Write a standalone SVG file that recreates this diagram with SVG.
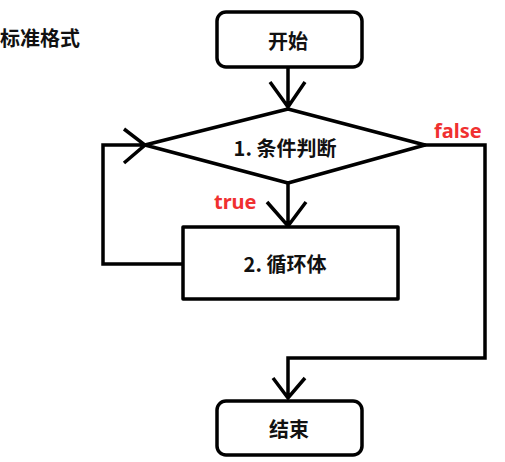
<svg xmlns="http://www.w3.org/2000/svg" width="505" height="462" viewBox="0 0 505 462">
<style>
.s{fill:#fff;stroke:#000;stroke-width:3.5;stroke-linejoin:round}
.c{fill:none;stroke:#000;stroke-width:3.5;stroke-linejoin:miter}
.t{font-family:"Noto Sans CJK SC","Noto Sans",sans-serif;font-weight:bold;font-size:20px;fill:#111;text-anchor:middle}
.r{font-family:"Noto Sans","Open Sans",sans-serif;font-weight:bold;font-size:20px;fill:#f03030}
</style>
<rect width="505" height="462" fill="#fff"/>
<text x="0" y="46" class="t" style="text-anchor:start">标准格式</text>
<g id="connectors">
<path class="c" d="M288 67 V106 M270 82 L288 107 L305 82"/>
<path class="c" d="M288 183 V226 M267 202 L288 226 L306 202"/>
<path class="c" d="M183 264 H103 V145 H144 M124 129 L145 145 L124 163"/>
<path class="c" d="M425 145 H485 V358 H288 V398 M273 378 L288 398 L305 378"/>
</g>
<g id="start">
<rect class="s" x="217" y="12" width="145" height="55" rx="9"/>
<text x="288" y="49" class="t">开始</text>
</g>
<g id="cond">
<polygon class="s" points="288,109 425,145 288,183 145,145"/>
<text x="285" y="156" class="t">1. 条件判断</text>
</g>
<g id="body">
<rect class="s" x="183" y="227" width="215" height="72"/>
<text x="285" y="272" class="t">2. 循环体</text>
</g>
<g id="end">
<rect class="s" x="217" y="401" width="145" height="54" rx="9"/>
<text x="289" y="437" class="t">结束</text>
</g>
<text x="214" y="209" class="r">true</text>
<text x="434" y="138" class="r">false</text>
</svg>
